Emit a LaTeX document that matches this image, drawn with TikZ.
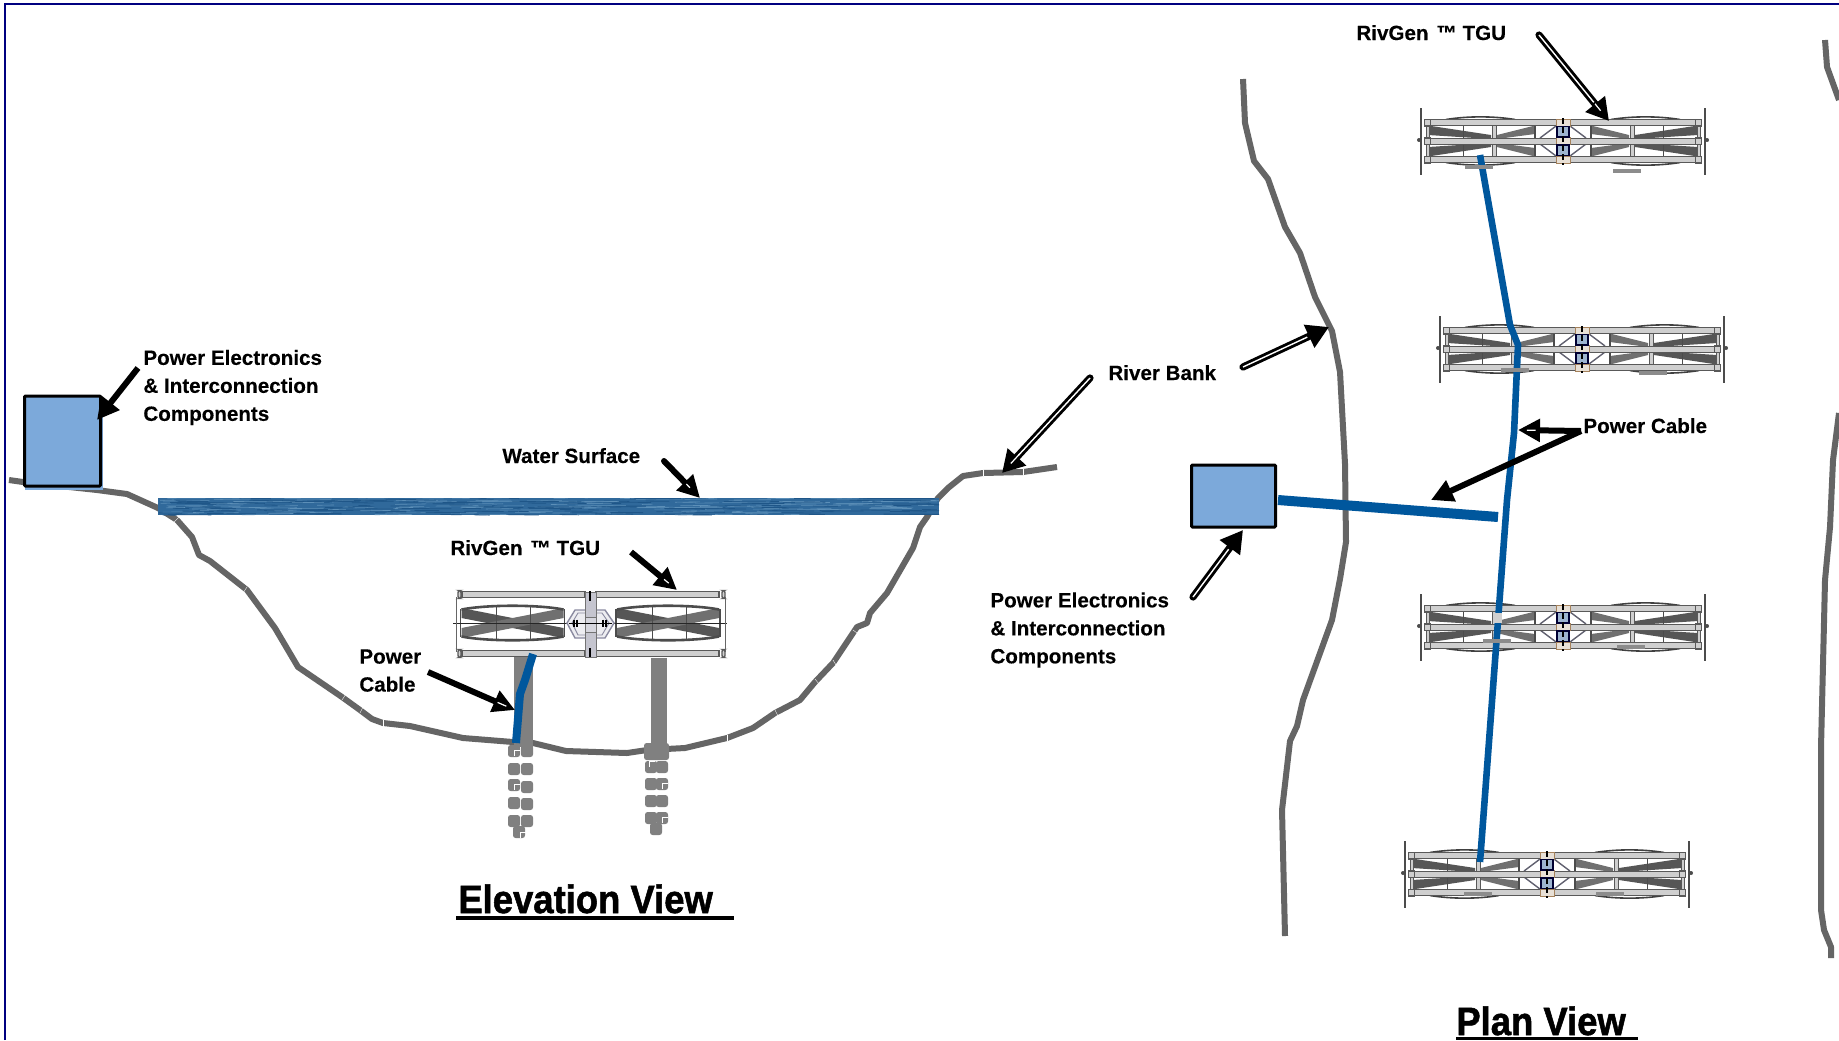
\documentclass[tikz,border=0pt]{standalone}
\usepackage{fontspec}
\setmainfont{Liberation Sans}[BoldFeatures={FakeBold=0.25}]
\newfontfamily\titlefont{Liberation Sans}[BoldFeatures={FakeBold=1.4}]
\usetikzlibrary{arrows.meta,calc}
\definecolor{framenavy}{HTML}{000080}
\definecolor{groundgrey}{HTML}{656565}
\definecolor{pylongrey}{HTML}{808080}
\definecolor{boxblue}{HTML}{7CA9DA}
\definecolor{cableblue}{HTML}{00579D}
\definecolor{waterblue}{HTML}{30699B}
\definecolor{waterdark}{HTML}{1F5688}
\definecolor{waterlight}{HTML}{5C8FB8}
\definecolor{tubegrey}{HTML}{CFCFCF}
\definecolor{bandgrey}{HTML}{565656}
\definecolor{bandlight}{HTML}{707070}
\definecolor{hubblue}{HTML}{9DB4D0}
\definecolor{hubbrown}{HTML}{A5825C}
\definecolor{hexline}{HTML}{8A8AA0}
\tikzset{
  lab/.style={font=\fontsize{10.3}{14}\selectfont\bfseries,inner sep=0pt,align=left},
  titlelab/.style={font=\titlefont\fontsize{19.8}{22}\selectfont\bfseries,inner sep=0pt,xscale=0.92,transform shape,anchor=base west},
  ground/.style={draw=groundgrey,line width=3pt,line join=bevel},
  cable/.style={draw=cableblue},
  pbox/.style={draw=black,line width=1.5pt,fill=boxblue,rounded corners=0.5pt,inner sep=0pt},
  solidarrow/.style={draw=black,line width=3pt,-{Triangle[length=11pt,width=11pt]}},
  lineduparrow/.style={draw=black,line width=3.6pt,line cap=round,-{Triangle[length=11pt,width=12pt]}},
  arrowcore/.style={draw=white,line width=0.7pt},
  fleck/.style={draw=white,line width=0.6pt},
  tube/.style={draw=black!65,line width=0.35pt,fill=tubegrey},
  thinline/.style={draw=black!70,line width=0.3pt},
  block/.style={fill=pylongrey,rounded corners=1.3pt},
  tick/.style={draw=white,line width=0.18pt},
}
% plan-view turbine, hub at (#1,#2)
\newcommand{\plantgu}[2]{%
 \begin{scope}[shift={(#1,#2)}]
  \foreach \s in {-1,1}{
   \draw[black!70,line width=1pt] (\s*142,-33) -- (\s*142,34);
   \fill[black!70] (\s*144,-1) circle (1pt);
   \foreach \t in {-1,1}{
    \draw[black!75,line width=0.8pt] (\s*117,\t*21.5) .. controls (\s*95,\t*25) and (\s*70,\t*25) .. (\s*48,\t*21.5);
    \fill[bandgrey] (\s*135,\t*15.5) -- (\s*135,\t*6) -- (\s*72,\t*2) -- (\s*72,\t*6) -- cycle;
    \fill[bandlight] (\s*66,\t*6) -- (\s*66,\t*2) -- (\s*28,\t*7) -- (\s*28,\t*15.5) -- cycle;
    \draw[hexline!70!black,line width=0.7pt] (\s*23,\t*3) -- (\s*7,\t*15);
   }
   \draw[thinline] (\s*100,-16) -- (\s*100,16);
   \draw[thinline,line width=0.6pt] (\s*28,-16) -- (\s*28,16);
   \draw[tube] (\s*71,-16) rectangle (\s*67,16);
   \draw[tube] (\s*134,-16) rectangle (\s*137,16);
  }
  \foreach \y in {-18.5,0,18.5}{
   \draw[tube] (-139,\y-3) rectangle (138,\y+3);
   \draw[draw=black!65,line width=0.5pt] (-139,\y-3.5) rectangle (-133,\y+3.5);
   \draw[draw=black!65,line width=0.5pt] (132,\y-3.5) rectangle (138,\y+3.5);
   \draw[hubbrown,line width=0.5pt,fill=hubbrown!25] (-7,\y-3.5) rectangle (7,\y+3.5);
  }
  \draw[draw=black!80!blue,fill=hubblue,line width=0.6pt] (-6,-14.5) rectangle (6,-4);
  \draw[draw=black!80!blue,fill=hubblue,line width=0.6pt] (-6,4) rectangle (6,14.5);
  \draw[black,line width=0.7pt,dash pattern=on 3pt off 1.5pt] (0,-23) -- (0,24);
 \end{scope}}
\newcommand{\tgubar}[2]{\fill[black!45] (#1,#2) rectangle ++(28,3.5);}
% white fleck inside an arrow head, along s--e between two fractions
\newcommand{\headfleck}[4]{\draw[fleck] ($(#1)!#3!(#2)$) -- ($(#1)!#4!(#2)$);}
% elevation rotor centred on (#1,623)
\newcommand{\elrotor}[1]{%
 \begin{scope}[shift={(#1,623)}]
  \fill[bandgrey] (-51,-15) -- (-51,-5) -- (51,15) -- (51,5) -- cycle;
  \fill[bandlight] (-51,15) -- (-51,5) -- (51,-15) -- (51,-5) -- cycle;
  \foreach \t in {-1,1}{
   \draw[black!70,line width=1.3pt] (-51,\t*13.5) .. controls (-25,\t*18.5) and (25,\t*18.5) .. (51,\t*13.5);
  }
  \draw[thinline,line width=0.4pt] (-16,-17) -- (-16,17);
  \draw[thinline,line width=0.4pt] (18,-17) -- (18,17);
  \draw[black!70,line width=0.9pt] (-52,-14) -- (-52,14);
  \draw[black!70,line width=0.9pt] (52,-14) -- (52,14);
 \end{scope}}
\begin{document}
\begin{tikzpicture}[x=0.5pt,y=-0.5pt]
\useasboundingbox (0,0) rectangle (1839,1040);
\fill[white] (0,0) rectangle (1839,1040);
\draw[framenavy,line width=1pt] (5,1040) -- (5,4) -- (1839,4);

% ---------- elevation ground
\draw[ground] (9,480) -- (23,482) -- (97,490) -- (127,494) -- (158,508) -- (177,520) -- (192,537) -- (199,555) -- (210,561) -- (247,590) -- (275,628) -- (298,667) -- (342,697) -- (360,710) -- (372,719) -- (383,723) -- (410,726) -- (463,738) -- (513,742) -- (533,743) -- (566,751) -- (627,753) -- (647,750) -- (685,748) -- (727,738) -- (753,728) -- (775,713) -- (800,700) -- (815,682) -- (833,663) -- (853,633) -- (857,627) -- (867,623) -- (870,613) -- (887,593) -- (913,548) -- (920,527) -- (927,517) -- (938,498) -- (948,488) -- (963,476) -- (983,473) -- (1023,472) -- (1057,467);
\foreach \ax/\ay/\bx/\by in {174/522/179/517,247/587/243/593,342/700/346/694,360/713/363/707,383/720/383/727,727/735/727/741,775/710/778/716,815/679/819/684,833/660/836/665,853/630/857/633,983/470/983/476,1023/469/1023/475}{
 \draw[tick] (\ax,\ay) -- (\bx,\by);
}

% ---------- water
\fill[waterblue] (158,498) rectangle (939,515);
\begin{scope}
 \clip (158,498) rectangle (939,515);
 \pgfmathsetseed{11}
 \foreach \i in {1,...,170}{
  \pgfmathsetmacro\xa{158+rnd*770}
  \pgfmathsetmacro\ya{498+rnd*17}
  \pgfmathsetmacro\la{10+rnd*40}
  \draw[waterdark,line width=0.4pt] (\xa,\ya) -- ++(\la,0.3);
  \pgfmathsetmacro\xb{158+rnd*770}
  \pgfmathsetmacro\yb{498+rnd*17}
  \draw[waterlight,line width=0.3pt] (\xb,\yb) -- ++(\la,-0.3);
 }
\end{scope}

% ---------- elevation box
\fill[boxblue] (25,397) rectangle (103,490);
\node[pbox,minimum width=38pt,minimum height=45pt,anchor=north west] (ebox) at (23,394.5) {};

% ---------- elevation turbine
\elrotor{512.5}
\elrotor{668}
\draw[black!85,line width=0.35pt] (453,623) -- (727,623);
\foreach \y in {594.5,653.5}{
 \draw[tube,line width=0.55pt] (462,\y-3) rectangle (585,\y+3);
 \draw[tube,line width=0.55pt] (596,\y-3) rectangle (719,\y+3);
}
\foreach \x in {458,722}{
 \draw[black!65,line width=0.7pt,rounded corners=1pt,fill=tubegrey] (\x,590.5) rectangle +(3,8);
 \draw[black!65,line width=0.7pt,rounded corners=1pt,fill=tubegrey] (\x,649.5) rectangle +(3,8);
}
\draw[black!60,line width=0.45pt] (456.5,597) -- (456.5,652);
\draw[black!60,line width=0.45pt] (725,597) -- (725,652);
\draw[hexline,line width=0.7pt,fill=hexline!15] (567,623) -- (575,610) -- (605,610) -- (614,623) -- (605,638) -- (575,638) -- cycle;
\draw[hexline,line width=0.45pt] (572,623) -- (578,613) -- (602,613) -- (609,623) -- (602,635) -- (578,635) -- cycle;
\draw[black!55,fill=hexline!50,line width=0.4pt] (585,592) rectangle (596,657);
\draw[black!55,fill=hexline!35,line width=0.4pt] (585,617) rectangle (596,632);
\draw[black,line width=0.45pt] (569,623) -- (612,623);
\draw[black,line width=1.1pt] (590,591) -- (590,601);
\draw[black,line width=1.1pt] (590,648) -- (590,657);
\foreach \x in {574,577,603,606}{\draw[black,line width=0.7pt] (\x,619.5) -- (\x,626.5);}

% ---------- pylons and anchor blocks
\fill[pylongrey] (514,657) rectangle (533,747);
\fill[pylongrey] (651,658) rectangle (667,757);
\fill[block] (644,743) rectangle (669,760);
\foreach \x/\y in {514/751,527/751,514/769,527/769,514/785,527/787,514/803,527/804,514/821,527/821,519/832,
                   651/767,662/767,651/784,662/784,651/801,662/801,651/818,662/818,656/829}{
 \fill[block] (\x-6,\y-6) rectangle (\x+6,\y+6);
}
\foreach \x/\y in {516/752,516/786,664/785,664/819,522/834,651/763}{
 \draw[white,line width=0.4pt] (\x-2,\y+4) -- (\x-2,\y-2) -- (\x+4,\y-2);
}
% elevation cable
\draw[cable,line width=4pt] (533,654) -- (525,680) -- (520,694) -- (516,743);

% ---------- plan river banks
\draw[ground] (1243,79) -- (1245,123) -- (1254,161) -- (1268,179) -- (1285,227) -- (1300,253) -- (1315,297) -- (1332,331) -- (1340,372) -- (1345,464) -- (1346,542) -- (1340,579) -- (1332,620) -- (1303,700) -- (1297,726) -- (1290,741) -- (1282,810) -- (1285,936);
\draw[ground] (1825,40) -- (1827,67) -- (1839,100);
\draw[ground] (1839,413) -- (1833,460) -- (1830,527) -- (1825,580) -- (1821,747) -- (1821,910) -- (1824,930) -- (1831,947) -- (1831,958);

% ---------- plan turbines
\plantgu{1563}{141}
\plantgu{1582}{349}
\plantgu{1563}{627}
\plantgu{1547}{874}

% ---------- plan box and cables
\node[pbox,minimum width=42pt,minimum height=31pt,anchor=north west] (pbx) at (1190,463.5) {};
\coordinate (cj) at (1498,517);
\coordinate (cs) at (1278,500);
\draw[cable,line width=5pt] (cs) -- (cj);
\draw[cable,line width=3.3pt] (1480,155) -- (1510,325) -- (1518,345) -- (1514,433) -- (1507,500) -- (1480,862);
\fill[tubegrey] (1493,613) rectangle (1502,623);
\tgubar{1465}{165}
\tgubar{1613}{169}
\tgubar{1501}{368}
\tgubar{1639}{371}
\tgubar{1483}{639}
\tgubar{1617}{645}
\tgubar{1464}{892}
\tgubar{1596}{892}

% ---------- labels
\node[lab,anchor=north west] (pe1) at (143,349.5) {Power Electronics\\\& Interconnection\\Components};
\node[lab,anchor=base west] (ws) at (502,463) {Water Surface};
\node[lab,anchor=base west] (rg1) at (450,555) {RivGen \kern1pt™ TGU};
\node[lab,anchor=north west] (pc1) at (359,649) {Power\\Cable};
\node[lab,anchor=base west] (rb) at (1108,380) {River Bank};
\node[lab,anchor=base west] (rg2) at (1356,40) {RivGen \kern1pt™ TGU};
\node[lab,anchor=base west] (pc2) at (1583,433) {Power Cable};
\node[lab,anchor=north west] (pe2) at (990,592) {Power Electronics\\\& Interconnection\\Components};
\node[titlelab] (ev) at (458,913) {Elevation View};
\node[titlelab] (pv) at (1456,1035) {Plan View};
\fill[black] (456,916) rectangle (734,920);
\fill[black] (1456,1036.5) rectangle (1638,1040);

% ---------- arrows
\coordinate (a1s) at (138,368);   \coordinate (a1e) at (97,420);
\coordinate (a2s) at (664,461);   \coordinate (a2e) at (700,498);
\coordinate (a3s) at (631,552);   \coordinate (a3e) at (677,590);
\coordinate (a4s) at (428,672);   \coordinate (a4e) at (515,710);
\coordinate (a5s) at (1090,378);  \coordinate (a5e) at (1002,473);
\coordinate (a6s) at (1243,367);  \coordinate (a6e) at (1329,327);
\coordinate (a7s) at (1193,597);  \coordinate (a7e) at (1243,530);
\coordinate (a8s) at (1539,35);   \coordinate (a8e) at (1609,121);
\coordinate (a9s) at (1581,431);  \coordinate (a9e) at (1518,430);
\coordinate (a10e) at (1431,500);
\draw[solidarrow] (a1s) -- (a1e);
\draw[solidarrow,line cap=round] (a2s) -- (a2e);
\draw[solidarrow] (a3s) -- (a3e);
\draw[solidarrow] (a4s) -- (a4e);
\draw[lineduparrow] (a5s) -- (a5e);
\draw[lineduparrow] (a6s) -- (a6e);
\draw[lineduparrow] (a7s) -- (a7e);
\draw[lineduparrow] (a8s) -- (a8e);
\draw[solidarrow] (a9s) -- (a9e);
\draw[solidarrow] (a9s) -- (a10e);
\draw[arrowcore,shorten >=12pt] (a5s) -- (a5e);
\draw[arrowcore,shorten >=12pt] (a6s) -- (a6e);
\draw[arrowcore,shorten >=12pt] (a7s) -- (a7e);
\draw[arrowcore,shorten >=12pt] (a8s) -- (a8e);
\headfleck{a2s}{a2e}{0.62}{0.72}
\headfleck{a3s}{a3e}{0.72}{0.82}
\headfleck{a4s}{a4e}{0.80}{0.90}
\headfleck{a5s}{a5e}{0.80}{0.90}
\headfleck{a8s}{a8e}{0.80}{0.88}
\headfleck{a9s}{a9e}{0.72}{0.86}
\end{tikzpicture}
\end{document}
